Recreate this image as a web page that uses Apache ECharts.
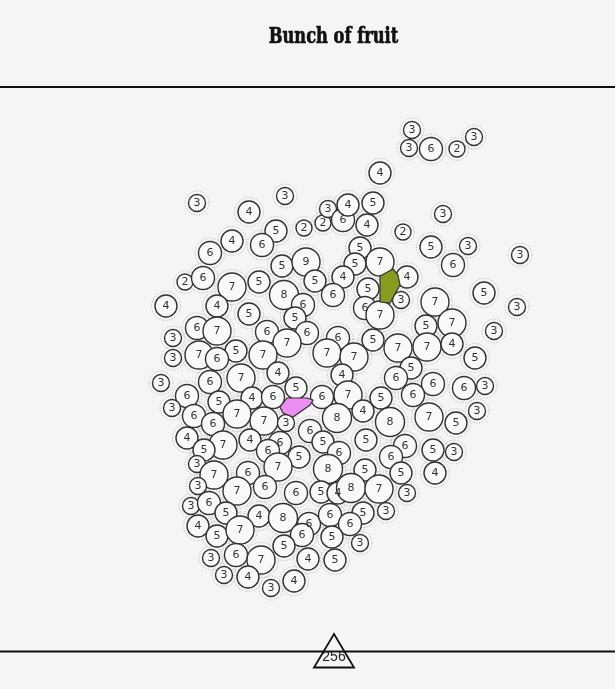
<!DOCTYPE html>
<html><head><meta charset="utf-8">
<script src="https://cdn.jsdelivr.net/npm/echarts@6/dist/echarts.min.js"></script>
<style>html,body{margin:0;padding:0;background:#f6f4f5}#c{width:615px;height:689px}</style>
</head><body><div id="c"></div><script>
// circle centres (chart units = page pixels) and the number in each circle
const circleX = [412,409,431,457,474,380,197,285,249,276,304,323,328,343,348,373,367,403,443,232,262,210,360,431,468,520,282,306,355,380,453,185,203,232,259,315,343,407,284,333,368,484,401,166,217,303,435,517,365,249,295,380,197,217,267,307,426,452,494,173,338,287,373,398,427,452,199,236,263,327,354,173,217,475,411,241,278,342,396,161,210,296,433,464,485,187,219,252,273,322,348,381,413,172,194,237,213,264,286,337,363,390,429,456,477,310,187,250,280,323,366,223,204,268,299,339,405,433,454,391,197,278,328,365,401,435,214,248,198,237,265,296,321,338,351,379,407,191,209,226,259,283,309,330,363,386,350,198,217,240,302,332,360,284,211,236,261,308,335,224,248,294,271];
const circleY = [130,148,149,149,137,173,203,196,212,231,228,223,209,220,205,203,225,232,214,241,245,253,248,247,246,255,266,262,264,262,265,282,278,287,282,281,277,277,295,295,289,293,300,306,306,305,302,307,308,314,318,315,328,331,332,333,326,323,331,338,338,343,340,348,347,344,355,351,355,353,357,358,359,358,368,378,373,375,378,383,382,388,384,388,386,396,402,398,397,397,395,398,395,408,416,414,424,421,423,418,411,422,417,423,411,431,438,440,443,442,440,445,450,451,457,453,446,450,452,457,464,467,469,470,473,473,475,473,486,491,487,493,492,493,488,489,493,506,503,513,516,518,524,515,513,511,524,526,536,530,535,537,543,546,558,555,560,559,560,575,577,581,588];
const circleValue = [3,3,6,2,3,4,3,3,4,5,2,2,3,6,4,5,4,2,3,4,6,6,5,5,3,3,5,9,5,7,6,2,6,7,5,5,4,4,8,6,5,5,3,4,4,6,7,3,6,5,5,7,6,7,6,6,5,7,3,3,6,7,5,7,7,4,7,5,7,7,7,3,6,5,5,7,4,4,6,3,6,5,6,6,3,6,5,4,6,6,7,5,6,3,6,7,6,7,3,8,4,8,7,5,3,6,4,4,6,5,5,7,5,6,5,6,6,5,3,6,3,7,8,5,5,4,7,6,3,7,6,6,5,4,8,7,3,3,6,5,4,8,6,6,5,3,6,4,5,7,6,5,3,5,3,6,7,4,5,3,4,4,3];
// highlighted gaps
const greenX = [380,393,398,400,390,380];
const greenY = [276,269,275,285,303,302];
const pinkX = [287,307,313,310,293,283,280];
const pinkY = [398,398,400,405,417,413,407];
const titleText = 'Bunch of fruit';
const markerLabel = '256';

const R = {2:8,3:8.5,4:11,5:11,6:11.5,7:14,8:14.5,9:14};
const pts = circleX.map((x,i)=>[x,circleY[i],circleValue[i]]);
const polys = [
  {xs:greenX, ys:greenY, color:'#879c1e'},
  {xs:pinkX, ys:pinkY, color:'#ec8ef3'}
];

const chart = echarts.init(document.getElementById('c'), null, {renderer:'canvas'});
chart.setOption({
  backgroundColor:'#f6f4f5',
  animation:false,
  grid:{left:0,right:0,top:0,bottom:0},
  xAxis:{type:'value',min:0,max:615,show:false},
  yAxis:{type:'value',min:0,max:689,inverse:true,show:false},
  series:[
    {type:'scatter',z:1,silent:true,data:pts,
     symbolSize:d=>2*(R[d[2]]+3.5),
     itemStyle:{color:'rgba(0,0,0,0)',borderColor:'#a8a6a7',borderWidth:1,borderType:[1,1.6]},
     emphasis:{disabled:true}},
    {type:'scatter',z:2,silent:true,data:pts,
     symbolSize:d=>2*R[d[2]],
     itemStyle:{color:'#faf9fa',borderColor:'#333',borderWidth:1.4,opacity:1},
     label:{show:true,position:'inside',formatter:p=>String(p.value[2]),color:'#333',fontSize:11,fontFamily:'DejaVu Sans'},
     emphasis:{disabled:true}},
    {type:'custom',z:3,silent:true,data:[0,1],
     renderItem:(params,api)=>{
       const p = polys[api.value(0)];
       const points = p.xs.map((x,i)=>api.coord([x,p.ys[i]]));
       return {type:'polygon',shape:{points},style:{fill:p.color,stroke:'#333',lineWidth:1.2}};
     }}
  ],
  graphic:[
    {type:'text',x:333.5,y:37,scaleX:0.74,style:{text:titleText,font:'bold 22px "DejaVu Serif", serif',fill:'#111',stroke:'#111',lineWidth:0.7,align:'center',verticalAlign:'middle'}},
    {type:'line',shape:{x1:0,y1:87,x2:615,y2:87},style:{stroke:'#111',lineWidth:2}},
    {type:'line',shape:{x1:0,y1:651.5,x2:615,y2:651.5},style:{stroke:'#111',lineWidth:1.8}},
    {type:'polygon',z:10,shape:{points:[[334,634],[354,667.5],[314,667.5]]},style:{fill:'none',stroke:'#111',lineWidth:1.8}},
    {type:'text',z:11,x:334,y:657,style:{text:markerLabel,font:'14px "Liberation Sans", Arial, sans-serif',fill:'#222',align:'center',verticalAlign:'middle'}}
  ]
});
</script></body></html>
